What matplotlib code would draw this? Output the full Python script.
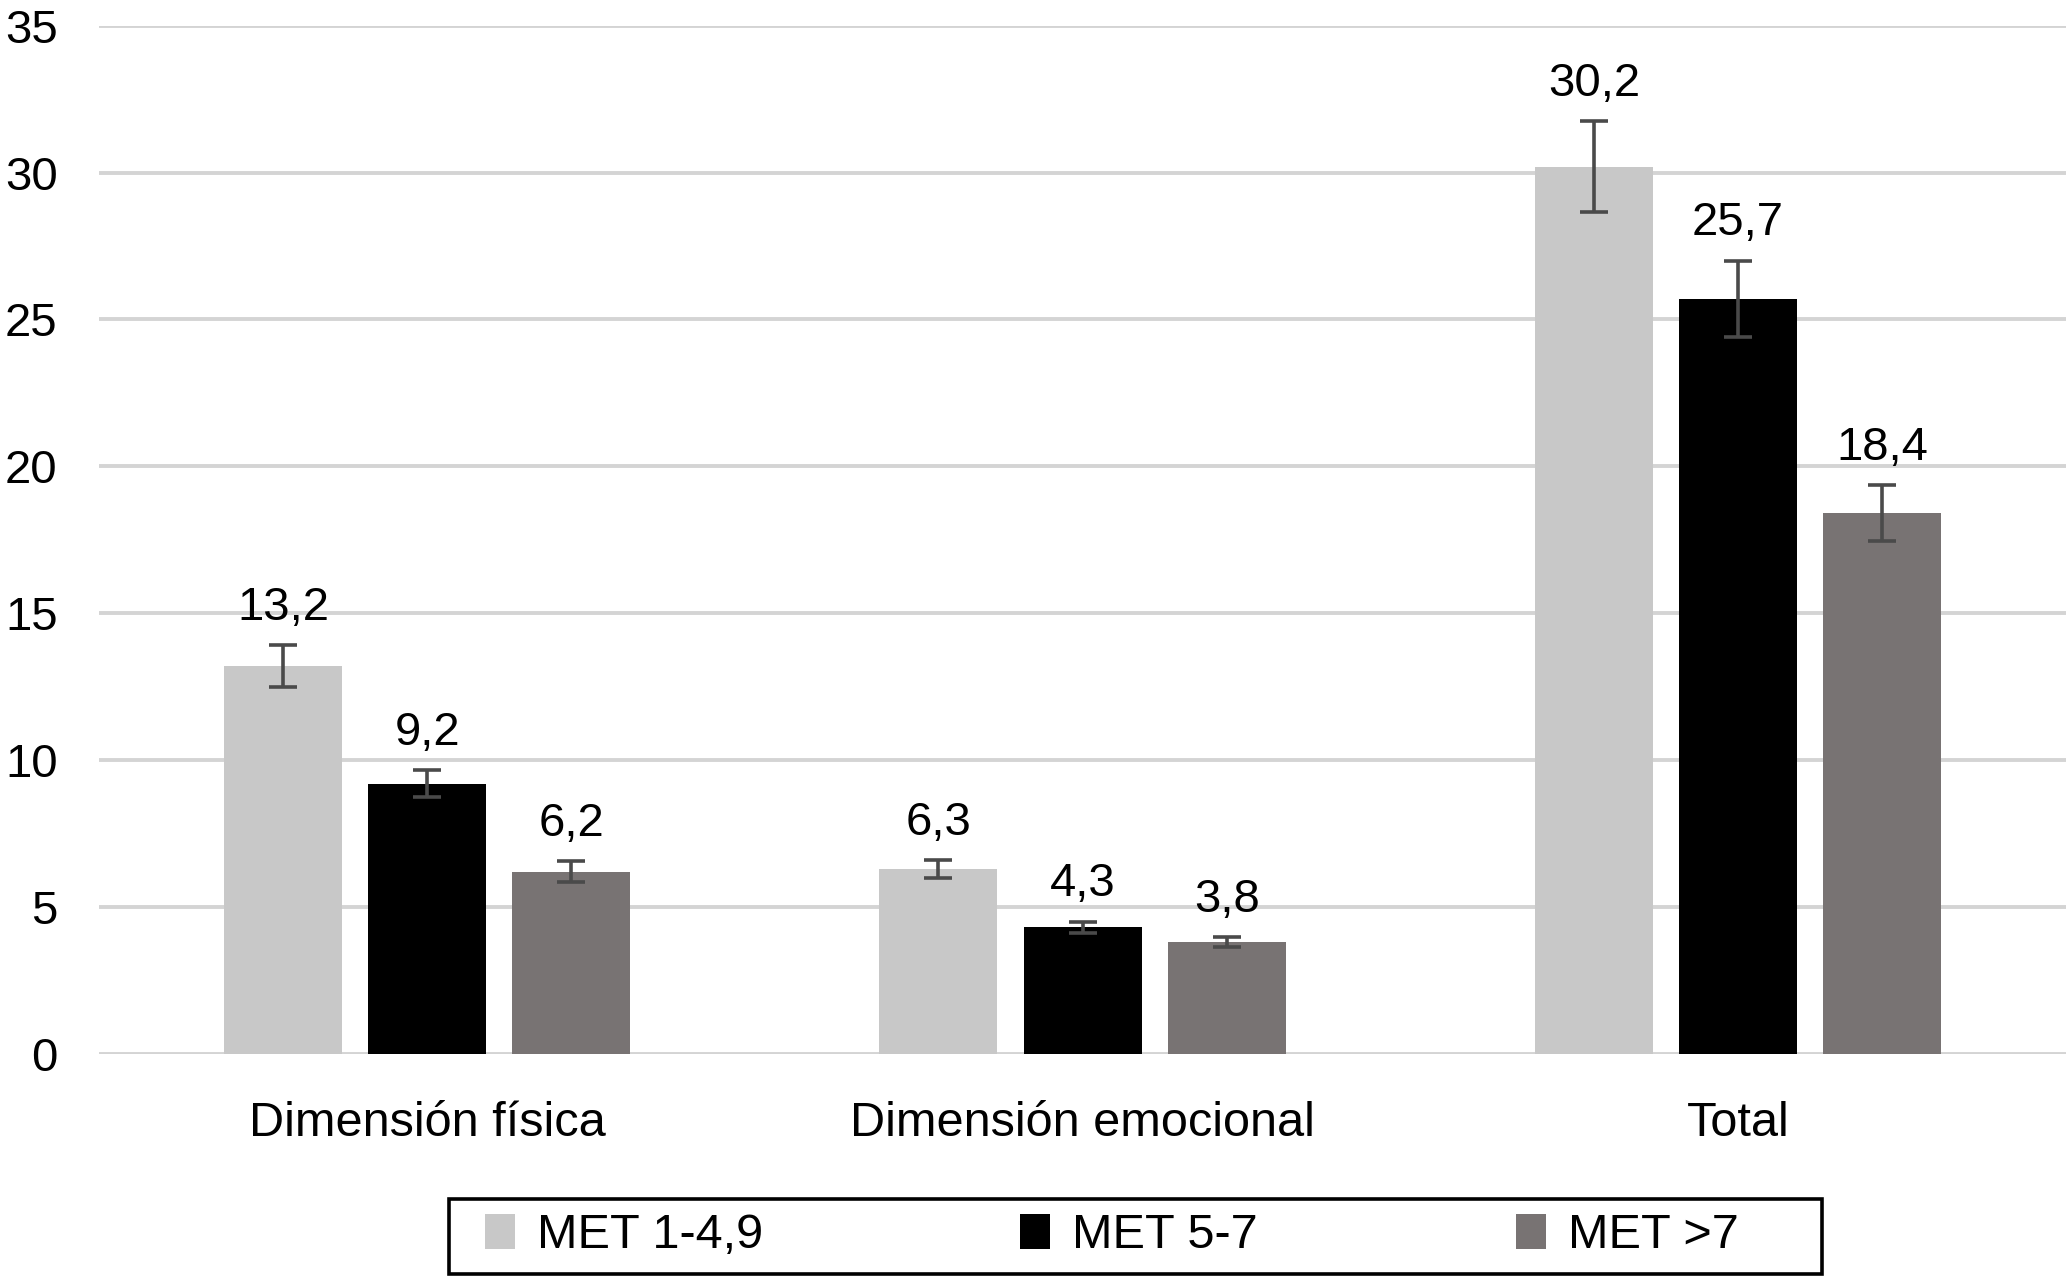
import matplotlib
matplotlib.use("Agg")
import matplotlib.pyplot as plt
from matplotlib.patches import Rectangle
import numpy as np

categories = ["Dimensión física", "Dimensión emocional", "Total"]
series = ["MET 1-4,9", "MET 5-7", "MET >7"]
values = {
    "MET 1-4,9": [13.2, 6.3, 30.2],
    "MET 5-7": [9.2, 4.3, 25.7],
    "MET >7": [6.2, 3.8, 18.4],
}
errors = {
    "MET 1-4,9": [0.7, 0.3, 1.55],
    "MET 5-7": [0.45, 0.2, 1.3],
    "MET >7": [0.35, 0.18, 0.95],
}
labels = {
    "MET 1-4,9": ["13,2", "6,3", "30,2"],
    "MET 5-7": ["9,2", "4,3", "25,7"],
    "MET >7": ["6,2", "3,8", "18,4"],
}
yticks = [0, 5, 10, 15, 20, 25, 30, 35]
colors = {"MET 1-4,9": "#c8c8c8", "MET 5-7": "#000000", "MET >7": "#787373"}

plt.rcParams['font.family'] = ['Liberation Sans', 'DejaVu Sans']

fig = plt.figure(figsize=(20.7, 12.82), dpi=100)
ax = fig.add_axes([0.048, 0.178, 0.950, 0.802])

x = np.arange(len(categories))
offsets = [-0.22, 0.0, 0.22]
width = 0.18
handles = []
for s, off in zip(series, offsets):
    b = ax.bar(x + off, values[s], width, color=colors[s], label=s, zorder=3)
    handles.append(b)
    ax.errorbar(x + off, values[s], yerr=errors[s], fmt='none', ecolor='#4a4a4a',
                elinewidth=2.6, capsize=10, capthick=2.6, zorder=4)
    for xi, v, e, t in zip(x + off, values[s], errors[s], labels[s]):
        ax.annotate(t, (xi, v + e), xytext=(0, 11), textcoords='offset points',
                    ha='center', va='bottom', fontsize=34, color='black')

ax.set_xlim(-0.5, 2.5)
ax.set_ylim(0, 35)
ax.set_yticks(yticks)
ax.set_yticklabels([str(t) for t in yticks], fontsize=34)
ax.set_xticks(x)
ax.set_xticklabels(categories, fontsize=35)
ax.tick_params(axis='y', length=0, pad=30)
ax.tick_params(axis='x', length=0, pad=34)
ax.yaxis.grid(True, color='#d4d4d4', linewidth=2.8, zorder=0)
ax.set_axisbelow(True)
for sp in ax.spines.values():
    sp.set_visible(False)

leg = fig.legend(handles=handles, labels=series, loc='center', ncol=3,
                 bbox_to_anchor=(0.537, 0.036),
                 fontsize=35, frameon=False,
                 handlelength=0.62, handleheight=0.75, handletextpad=0.45,
                 columnspacing=5.3, borderpad=0.2, borderaxespad=0)
fig.add_artist(Rectangle((0.217, 0.006), 0.663, 0.0585, transform=fig.transFigure,
                         fill=False, edgecolor='black', linewidth=2.6))

fig.savefig("out.png", dpi=100)
